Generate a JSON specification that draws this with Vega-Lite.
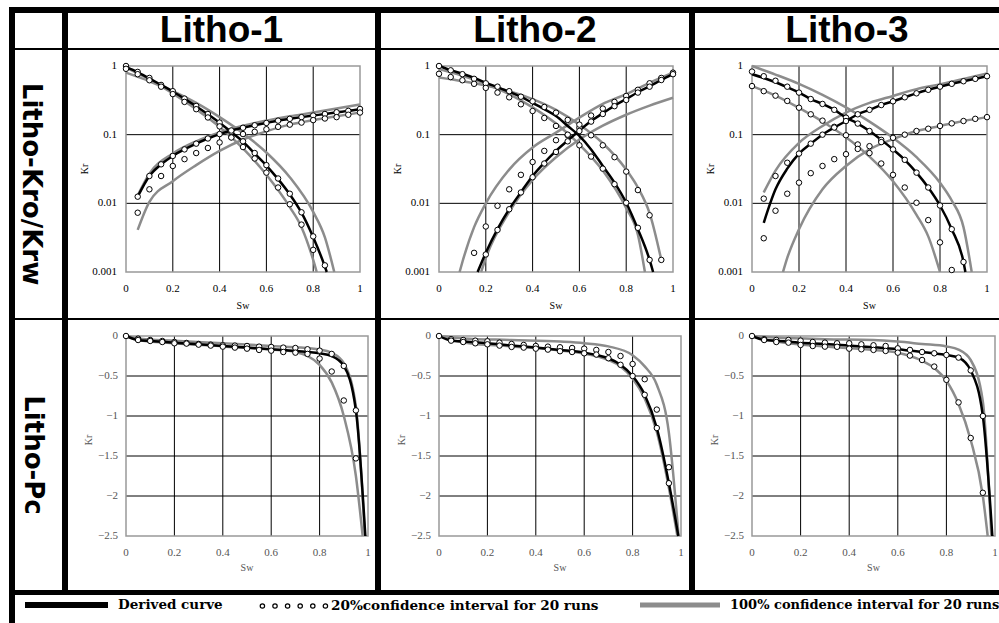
{
"$schema":"https://vega.github.io/schema/vega-lite/v6.json",
"padding":{"left":9,"top":4,"right":0,"bottom":0},
"background":"#ffffff",
"config":{"view":{"stroke":null},"concat":{"spacing":0}},
"datasets":{
"gx":[{"x":0.2},{"x":0.4},{"x":0.6},{"x":0.8}],
"gxl":[{"x":0},{"x":0.2},{"x":0.4},{"x":0.6},{"x":0.8},{"x":1}],
"gyk":[{"y":0.01},{"y":0.1}],
"gykl":[{"y":0.001},{"y":0.01},{"y":0.1},{"y":1}],
"gyp":[{"y":-2},{"y":-1.5},{"y":-1},{"y":-0.5}],
"gypl":[{"y":-2.5},{"y":-2},{"y":-1.5},{"y":-1},{"y":-0.5},{"y":0}],
"kr":[
{"p":1,"t":"d","c":"o","x":0,"y":0.97},{"p":1,"t":"d","c":"o","x":0.05,"y":0.81},{"p":1,"t":"d","c":"o","x":0.1,"y":0.66},{"p":1,"t":"d","c":"o","x":0.15,"y":0.53},{"p":1,"t":"d","c":"o","x":0.2,"y":0.425},{"p":1,"t":"d","c":"o","x":0.25,"y":0.333},{"p":1,"t":"d","c":"o","x":0.3,"y":0.26},{"p":1,"t":"d","c":"o","x":0.35,"y":0.198},{"p":1,"t":"d","c":"o","x":0.4,"y":0.149},{"p":1,"t":"d","c":"o","x":0.45,"y":0.109},{"p":1,"t":"d","c":"o","x":0.5,"y":0.079},{"p":1,"t":"d","c":"o","x":0.55,"y":0.053},{"p":1,"t":"d","c":"o","x":0.6,"y":0.0355},{"p":1,"t":"d","c":"o","x":0.65,"y":0.0225},{"p":1,"t":"d","c":"o","x":0.7,"y":0.0135},{"p":1,"t":"d","c":"o","x":0.75,"y":0.0073},{"p":1,"t":"d","c":"o","x":0.8,"y":0.0032},{"p":1,"t":"d","c":"o","x":0.85,"y":0.0012},{"p":1,"t":"d","c":"o","x":0.858,"y":0.001},
{"p":1,"t":"d","c":"w","x":0.05,"y":0.0125},{"p":1,"t":"d","c":"w","x":0.1,"y":0.025},{"p":1,"t":"d","c":"w","x":0.15,"y":0.037},{"p":1,"t":"d","c":"w","x":0.2,"y":0.049},{"p":1,"t":"d","c":"w","x":0.25,"y":0.061},{"p":1,"t":"d","c":"w","x":0.3,"y":0.074},{"p":1,"t":"d","c":"w","x":0.35,"y":0.088},{"p":1,"t":"d","c":"w","x":0.4,"y":0.102},{"p":1,"t":"d","c":"w","x":0.45,"y":0.115},{"p":1,"t":"d","c":"w","x":0.5,"y":0.126},{"p":1,"t":"d","c":"w","x":0.55,"y":0.137},{"p":1,"t":"d","c":"w","x":0.6,"y":0.148},{"p":1,"t":"d","c":"w","x":0.65,"y":0.16},{"p":1,"t":"d","c":"w","x":0.7,"y":0.17},{"p":1,"t":"d","c":"w","x":0.75,"y":0.18},{"p":1,"t":"d","c":"w","x":0.8,"y":0.19},{"p":1,"t":"d","c":"w","x":0.85,"y":0.2},{"p":1,"t":"d","c":"w","x":0.9,"y":0.212},{"p":1,"t":"d","c":"w","x":0.95,"y":0.222},{"p":1,"t":"d","c":"w","x":1,"y":0.237},
{"p":1,"t":"c","c":"oa","x":0,"y":1},{"p":1,"t":"c","c":"oa","x":0.05,"y":0.82},{"p":1,"t":"c","c":"oa","x":0.1,"y":0.67},{"p":1,"t":"c","c":"oa","x":0.15,"y":0.53},{"p":1,"t":"c","c":"oa","x":0.2,"y":0.43},{"p":1,"t":"c","c":"oa","x":0.25,"y":0.335},{"p":1,"t":"c","c":"oa","x":0.3,"y":0.262},{"p":1,"t":"c","c":"oa","x":0.35,"y":0.2},{"p":1,"t":"c","c":"oa","x":0.4,"y":0.15},{"p":1,"t":"c","c":"oa","x":0.45,"y":0.11},{"p":1,"t":"c","c":"oa","x":0.5,"y":0.08},{"p":1,"t":"c","c":"oa","x":0.55,"y":0.054},{"p":1,"t":"c","c":"oa","x":0.6,"y":0.036},{"p":1,"t":"c","c":"oa","x":0.65,"y":0.023},{"p":1,"t":"c","c":"oa","x":0.7,"y":0.0138},{"p":1,"t":"c","c":"oa","x":0.75,"y":0.0074},{"p":1,"t":"c","c":"oa","x":0.8,"y":0.0033},{"p":1,"t":"c","c":"oa","x":0.85,"y":0.00125},
{"p":1,"t":"c","c":"ob","x":0,"y":0.91},{"p":1,"t":"c","c":"ob","x":0.05,"y":0.76},{"p":1,"t":"c","c":"ob","x":0.1,"y":0.62},{"p":1,"t":"c","c":"ob","x":0.15,"y":0.5},{"p":1,"t":"c","c":"ob","x":0.2,"y":0.39},{"p":1,"t":"c","c":"ob","x":0.25,"y":0.3},{"p":1,"t":"c","c":"ob","x":0.3,"y":0.235},{"p":1,"t":"c","c":"ob","x":0.35,"y":0.178},{"p":1,"t":"c","c":"ob","x":0.4,"y":0.132},{"p":1,"t":"c","c":"ob","x":0.45,"y":0.092},{"p":1,"t":"c","c":"ob","x":0.5,"y":0.066},{"p":1,"t":"c","c":"ob","x":0.55,"y":0.045},{"p":1,"t":"c","c":"ob","x":0.6,"y":0.028},{"p":1,"t":"c","c":"ob","x":0.65,"y":0.017},{"p":1,"t":"c","c":"ob","x":0.7,"y":0.0097},{"p":1,"t":"c","c":"ob","x":0.75,"y":0.0049},{"p":1,"t":"c","c":"ob","x":0.8,"y":0.0021},
{"p":1,"t":"c","c":"wa","x":0.05,"y":0.0125},{"p":1,"t":"c","c":"wa","x":0.1,"y":0.025},{"p":1,"t":"c","c":"wa","x":0.15,"y":0.037},{"p":1,"t":"c","c":"wa","x":0.2,"y":0.049},{"p":1,"t":"c","c":"wa","x":0.25,"y":0.061},{"p":1,"t":"c","c":"wa","x":0.3,"y":0.074},{"p":1,"t":"c","c":"wa","x":0.35,"y":0.088},{"p":1,"t":"c","c":"wa","x":0.4,"y":0.102},{"p":1,"t":"c","c":"wa","x":0.45,"y":0.115},{"p":1,"t":"c","c":"wa","x":0.5,"y":0.126},{"p":1,"t":"c","c":"wa","x":0.55,"y":0.137},{"p":1,"t":"c","c":"wa","x":0.6,"y":0.148},{"p":1,"t":"c","c":"wa","x":0.65,"y":0.16},{"p":1,"t":"c","c":"wa","x":0.7,"y":0.17},{"p":1,"t":"c","c":"wa","x":0.75,"y":0.18},{"p":1,"t":"c","c":"wa","x":0.8,"y":0.19},{"p":1,"t":"c","c":"wa","x":0.85,"y":0.2},{"p":1,"t":"c","c":"wa","x":0.9,"y":0.212},{"p":1,"t":"c","c":"wa","x":0.95,"y":0.222},{"p":1,"t":"c","c":"wa","x":1,"y":0.237},
{"p":1,"t":"c","c":"wb","x":0.05,"y":0.0073},{"p":1,"t":"c","c":"wb","x":0.1,"y":0.016},{"p":1,"t":"c","c":"wb","x":0.15,"y":0.025},{"p":1,"t":"c","c":"wb","x":0.2,"y":0.035},{"p":1,"t":"c","c":"wb","x":0.25,"y":0.044},{"p":1,"t":"c","c":"wb","x":0.3,"y":0.054},{"p":1,"t":"c","c":"wb","x":0.35,"y":0.064},{"p":1,"t":"c","c":"wb","x":0.4,"y":0.077},{"p":1,"t":"c","c":"wb","x":0.45,"y":0.091},{"p":1,"t":"c","c":"wb","x":0.5,"y":0.102},{"p":1,"t":"c","c":"wb","x":0.55,"y":0.11},{"p":1,"t":"c","c":"wb","x":0.6,"y":0.12},{"p":1,"t":"c","c":"wb","x":0.65,"y":0.13},{"p":1,"t":"c","c":"wb","x":0.7,"y":0.14},{"p":1,"t":"c","c":"wb","x":0.75,"y":0.15},{"p":1,"t":"c","c":"wb","x":0.8,"y":0.163},{"p":1,"t":"c","c":"wb","x":0.85,"y":0.172},{"p":1,"t":"c","c":"wb","x":0.9,"y":0.18},{"p":1,"t":"c","c":"wb","x":0.95,"y":0.195},{"p":1,"t":"c","c":"wb","x":1,"y":0.21},
{"p":1,"t":"g","c":"ga","x":0,"y":0.8},{"p":1,"t":"g","c":"ga","x":0.1,"y":0.6},{"p":1,"t":"g","c":"ga","x":0.2,"y":0.43},{"p":1,"t":"g","c":"ga","x":0.3,"y":0.29},{"p":1,"t":"g","c":"ga","x":0.4,"y":0.18},{"p":1,"t":"g","c":"ga","x":0.5,"y":0.105},{"p":1,"t":"g","c":"ga","x":0.6,"y":0.055},{"p":1,"t":"g","c":"ga","x":0.7,"y":0.024},{"p":1,"t":"g","c":"ga","x":0.8,"y":0.0075},{"p":1,"t":"g","c":"ga","x":0.85,"y":0.0032},{"p":1,"t":"g","c":"ga","x":0.89,"y":0.001},
{"p":1,"t":"g","c":"gb","x":0,"y":0.95},{"p":1,"t":"g","c":"gb","x":0.1,"y":0.64},{"p":1,"t":"g","c":"gb","x":0.2,"y":0.4},{"p":1,"t":"g","c":"gb","x":0.3,"y":0.235},{"p":1,"t":"g","c":"gb","x":0.4,"y":0.13},{"p":1,"t":"g","c":"gb","x":0.5,"y":0.063},{"p":1,"t":"g","c":"gb","x":0.6,"y":0.026},{"p":1,"t":"g","c":"gb","x":0.7,"y":0.0088},{"p":1,"t":"g","c":"gb","x":0.75,"y":0.0045},{"p":1,"t":"g","c":"gb","x":0.8,"y":0.0015},{"p":1,"t":"g","c":"gb","x":0.815,"y":0.001},
{"p":1,"t":"g","c":"gc","x":0.05,"y":0.013},{"p":1,"t":"g","c":"gc","x":0.1,"y":0.027},{"p":1,"t":"g","c":"gc","x":0.2,"y":0.053},{"p":1,"t":"g","c":"gc","x":0.3,"y":0.08},{"p":1,"t":"g","c":"gc","x":0.4,"y":0.108},{"p":1,"t":"g","c":"gc","x":0.5,"y":0.135},{"p":1,"t":"g","c":"gc","x":0.6,"y":0.16},{"p":1,"t":"g","c":"gc","x":0.7,"y":0.185},{"p":1,"t":"g","c":"gc","x":0.8,"y":0.21},{"p":1,"t":"g","c":"gc","x":0.9,"y":0.24},{"p":1,"t":"g","c":"gc","x":1,"y":0.275},
{"p":1,"t":"g","c":"gd","x":0.05,"y":0.0041},{"p":1,"t":"g","c":"gd","x":0.1,"y":0.0105},{"p":1,"t":"g","c":"gd","x":0.2,"y":0.021},{"p":1,"t":"g","c":"gd","x":0.3,"y":0.036},{"p":1,"t":"g","c":"gd","x":0.4,"y":0.058},{"p":1,"t":"g","c":"gd","x":0.5,"y":0.085},{"p":1,"t":"g","c":"gd","x":0.6,"y":0.112},{"p":1,"t":"g","c":"gd","x":0.7,"y":0.14},{"p":1,"t":"g","c":"gd","x":0.8,"y":0.163},{"p":1,"t":"g","c":"gd","x":0.9,"y":0.185},{"p":1,"t":"g","c":"gd","x":1,"y":0.21},
{"p":2,"t":"d","c":"o","x":0,"y":1},{"p":2,"t":"d","c":"o","x":0.05,"y":0.87},{"p":2,"t":"d","c":"o","x":0.1,"y":0.77},{"p":2,"t":"d","c":"o","x":0.15,"y":0.67},{"p":2,"t":"d","c":"o","x":0.2,"y":0.57},{"p":2,"t":"d","c":"o","x":0.25,"y":0.49},{"p":2,"t":"d","c":"o","x":0.3,"y":0.42},{"p":2,"t":"d","c":"o","x":0.35,"y":0.355},{"p":2,"t":"d","c":"o","x":0.4,"y":0.29},{"p":2,"t":"d","c":"o","x":0.45,"y":0.235},{"p":2,"t":"d","c":"o","x":0.5,"y":0.187},{"p":2,"t":"d","c":"o","x":0.55,"y":0.134},{"p":2,"t":"d","c":"o","x":0.6,"y":0.096},{"p":2,"t":"d","c":"o","x":0.65,"y":0.061},{"p":2,"t":"d","c":"o","x":0.7,"y":0.035},{"p":2,"t":"d","c":"o","x":0.75,"y":0.02},{"p":2,"t":"d","c":"o","x":0.8,"y":0.0102},{"p":2,"t":"d","c":"o","x":0.85,"y":0.0042},{"p":2,"t":"d","c":"o","x":0.9,"y":0.0015},{"p":2,"t":"d","c":"o","x":0.915,"y":0.001},
{"p":2,"t":"d","c":"w","x":0.165,"y":0.001},{"p":2,"t":"d","c":"w","x":0.2,"y":0.0019},{"p":2,"t":"d","c":"w","x":0.25,"y":0.0042},{"p":2,"t":"d","c":"w","x":0.3,"y":0.0082},{"p":2,"t":"d","c":"w","x":0.35,"y":0.0145},{"p":2,"t":"d","c":"w","x":0.4,"y":0.025},{"p":2,"t":"d","c":"w","x":0.45,"y":0.039},{"p":2,"t":"d","c":"w","x":0.5,"y":0.058},{"p":2,"t":"d","c":"w","x":0.55,"y":0.082},{"p":2,"t":"d","c":"w","x":0.6,"y":0.115},{"p":2,"t":"d","c":"w","x":0.65,"y":0.158},{"p":2,"t":"d","c":"w","x":0.7,"y":0.205},{"p":2,"t":"d","c":"w","x":0.75,"y":0.265},{"p":2,"t":"d","c":"w","x":0.8,"y":0.33},{"p":2,"t":"d","c":"w","x":0.85,"y":0.415},{"p":2,"t":"d","c":"w","x":0.9,"y":0.505},{"p":2,"t":"d","c":"w","x":0.95,"y":0.625},{"p":2,"t":"d","c":"w","x":1,"y":0.76},
{"p":2,"t":"c","c":"oa","x":0,"y":1},{"p":2,"t":"c","c":"oa","x":0.05,"y":0.865},{"p":2,"t":"c","c":"oa","x":0.1,"y":0.76},{"p":2,"t":"c","c":"oa","x":0.15,"y":0.65},{"p":2,"t":"c","c":"oa","x":0.2,"y":0.56},{"p":2,"t":"c","c":"oa","x":0.25,"y":0.5},{"p":2,"t":"c","c":"oa","x":0.3,"y":0.43},{"p":2,"t":"c","c":"oa","x":0.35,"y":0.357},{"p":2,"t":"c","c":"oa","x":0.4,"y":0.306},{"p":2,"t":"c","c":"oa","x":0.45,"y":0.253},{"p":2,"t":"c","c":"oa","x":0.5,"y":0.209},{"p":2,"t":"c","c":"oa","x":0.55,"y":0.164},{"p":2,"t":"c","c":"oa","x":0.6,"y":0.126},{"p":2,"t":"c","c":"oa","x":0.65,"y":0.098},{"p":2,"t":"c","c":"oa","x":0.7,"y":0.07},{"p":2,"t":"c","c":"oa","x":0.75,"y":0.047},{"p":2,"t":"c","c":"oa","x":0.8,"y":0.029},{"p":2,"t":"c","c":"oa","x":0.85,"y":0.0156},{"p":2,"t":"c","c":"oa","x":0.9,"y":0.0067},{"p":2,"t":"c","c":"oa","x":0.95,"y":0.0015},
{"p":2,"t":"c","c":"ob","x":0,"y":0.77},{"p":2,"t":"c","c":"ob","x":0.05,"y":0.69},{"p":2,"t":"c","c":"ob","x":0.1,"y":0.62},{"p":2,"t":"c","c":"ob","x":0.15,"y":0.55},{"p":2,"t":"c","c":"ob","x":0.2,"y":0.48},{"p":2,"t":"c","c":"ob","x":0.25,"y":0.41},{"p":2,"t":"c","c":"ob","x":0.3,"y":0.35},{"p":2,"t":"c","c":"ob","x":0.35,"y":0.277},{"p":2,"t":"c","c":"ob","x":0.4,"y":0.221},{"p":2,"t":"c","c":"ob","x":0.45,"y":0.175},{"p":2,"t":"c","c":"ob","x":0.5,"y":0.134},{"p":2,"t":"c","c":"ob","x":0.55,"y":0.098},{"p":2,"t":"c","c":"ob","x":0.6,"y":0.07},{"p":2,"t":"c","c":"ob","x":0.65,"y":0.048},{"p":2,"t":"c","c":"ob","x":0.7,"y":0.032},{"p":2,"t":"c","c":"ob","x":0.75,"y":0.019},{"p":2,"t":"c","c":"ob","x":0.8,"y":0.0102},{"p":2,"t":"c","c":"ob","x":0.85,"y":0.0044},{"p":2,"t":"c","c":"ob","x":0.9,"y":0.0015},
{"p":2,"t":"c","c":"wa","x":0.15,"y":0.0019},{"p":2,"t":"c","c":"wa","x":0.2,"y":0.0046},{"p":2,"t":"c","c":"wa","x":0.25,"y":0.0092},{"p":2,"t":"c","c":"wa","x":0.3,"y":0.016},{"p":2,"t":"c","c":"wa","x":0.35,"y":0.026},{"p":2,"t":"c","c":"wa","x":0.4,"y":0.04},{"p":2,"t":"c","c":"wa","x":0.45,"y":0.058},{"p":2,"t":"c","c":"wa","x":0.5,"y":0.083},{"p":2,"t":"c","c":"wa","x":0.55,"y":0.1},{"p":2,"t":"c","c":"wa","x":0.6,"y":0.14},{"p":2,"t":"c","c":"wa","x":0.65,"y":0.19},{"p":2,"t":"c","c":"wa","x":0.7,"y":0.24},{"p":2,"t":"c","c":"wa","x":0.75,"y":0.3},{"p":2,"t":"c","c":"wa","x":0.8,"y":0.366},{"p":2,"t":"c","c":"wa","x":0.85,"y":0.45},{"p":2,"t":"c","c":"wa","x":0.9,"y":0.56},{"p":2,"t":"c","c":"wa","x":0.95,"y":0.67},{"p":2,"t":"c","c":"wa","x":1,"y":0.8},
{"p":2,"t":"c","c":"wb","x":0.2,"y":0.0018},{"p":2,"t":"c","c":"wb","x":0.25,"y":0.0041},{"p":2,"t":"c","c":"wb","x":0.3,"y":0.0082},{"p":2,"t":"c","c":"wb","x":0.35,"y":0.0144},{"p":2,"t":"c","c":"wb","x":0.4,"y":0.024},{"p":2,"t":"c","c":"wb","x":0.45,"y":0.038},{"p":2,"t":"c","c":"wb","x":0.5,"y":0.056},{"p":2,"t":"c","c":"wb","x":0.55,"y":0.08},{"p":2,"t":"c","c":"wb","x":0.6,"y":0.113},{"p":2,"t":"c","c":"wb","x":0.65,"y":0.155},{"p":2,"t":"c","c":"wb","x":0.7,"y":0.2},{"p":2,"t":"c","c":"wb","x":0.75,"y":0.26},{"p":2,"t":"c","c":"wb","x":0.8,"y":0.32},{"p":2,"t":"c","c":"wb","x":0.85,"y":0.41},{"p":2,"t":"c","c":"wb","x":0.9,"y":0.5},{"p":2,"t":"c","c":"wb","x":0.95,"y":0.625},{"p":2,"t":"c","c":"wb","x":1,"y":0.76},
{"p":2,"t":"g","c":"ga","x":0,"y":0.68},{"p":2,"t":"g","c":"ga","x":0.1,"y":0.6},{"p":2,"t":"g","c":"ga","x":0.2,"y":0.52},{"p":2,"t":"g","c":"ga","x":0.3,"y":0.43},{"p":2,"t":"g","c":"ga","x":0.4,"y":0.33},{"p":2,"t":"g","c":"ga","x":0.5,"y":0.23},{"p":2,"t":"g","c":"ga","x":0.6,"y":0.14},{"p":2,"t":"g","c":"ga","x":0.7,"y":0.075},{"p":2,"t":"g","c":"ga","x":0.8,"y":0.031},{"p":2,"t":"g","c":"ga","x":0.85,"y":0.017},{"p":2,"t":"g","c":"ga","x":0.9,"y":0.0072},{"p":2,"t":"g","c":"ga","x":0.95,"y":0.0015},
{"p":2,"t":"g","c":"gb","x":0,"y":0.9},{"p":2,"t":"g","c":"gb","x":0.1,"y":0.72},{"p":2,"t":"g","c":"gb","x":0.2,"y":0.55},{"p":2,"t":"g","c":"gb","x":0.3,"y":0.39},{"p":2,"t":"g","c":"gb","x":0.4,"y":0.25},{"p":2,"t":"g","c":"gb","x":0.5,"y":0.145},{"p":2,"t":"g","c":"gb","x":0.6,"y":0.072},{"p":2,"t":"g","c":"gb","x":0.7,"y":0.03},{"p":2,"t":"g","c":"gb","x":0.8,"y":0.0085},{"p":2,"t":"g","c":"gb","x":0.85,"y":0.0035},{"p":2,"t":"g","c":"gb","x":0.88,"y":0.001},
{"p":2,"t":"g","c":"gc","x":0.088,"y":0.001},{"p":2,"t":"g","c":"gc","x":0.1,"y":0.0014},{"p":2,"t":"g","c":"gc","x":0.15,"y":0.0045},{"p":2,"t":"g","c":"gc","x":0.2,"y":0.01},{"p":2,"t":"g","c":"gc","x":0.3,"y":0.031},{"p":2,"t":"g","c":"gc","x":0.4,"y":0.065},{"p":2,"t":"g","c":"gc","x":0.5,"y":0.107},{"p":2,"t":"g","c":"gc","x":0.6,"y":0.177},{"p":2,"t":"g","c":"gc","x":0.7,"y":0.28},{"p":2,"t":"g","c":"gc","x":0.8,"y":0.39},{"p":2,"t":"g","c":"gc","x":0.9,"y":0.57},{"p":2,"t":"g","c":"gc","x":1,"y":0.8},
{"p":2,"t":"g","c":"gd","x":0.18,"y":0.001},{"p":2,"t":"g","c":"gd","x":0.2,"y":0.0016},{"p":2,"t":"g","c":"gd","x":0.3,"y":0.0075},{"p":2,"t":"g","c":"gd","x":0.4,"y":0.022},{"p":2,"t":"g","c":"gd","x":0.5,"y":0.047},{"p":2,"t":"g","c":"gd","x":0.6,"y":0.085},{"p":2,"t":"g","c":"gd","x":0.7,"y":0.135},{"p":2,"t":"g","c":"gd","x":0.8,"y":0.195},{"p":2,"t":"g","c":"gd","x":0.9,"y":0.265},{"p":2,"t":"g","c":"gd","x":1,"y":0.345},
{"p":3,"t":"d","c":"o","x":0,"y":0.76},{"p":3,"t":"d","c":"o","x":0.05,"y":0.67},{"p":3,"t":"d","c":"o","x":0.1,"y":0.58},{"p":3,"t":"d","c":"o","x":0.15,"y":0.49},{"p":3,"t":"d","c":"o","x":0.2,"y":0.41},{"p":3,"t":"d","c":"o","x":0.25,"y":0.33},{"p":3,"t":"d","c":"o","x":0.3,"y":0.28},{"p":3,"t":"d","c":"o","x":0.35,"y":0.23},{"p":3,"t":"d","c":"o","x":0.4,"y":0.177},{"p":3,"t":"d","c":"o","x":0.45,"y":0.145},{"p":3,"t":"d","c":"o","x":0.5,"y":0.113},{"p":3,"t":"d","c":"o","x":0.55,"y":0.084},{"p":3,"t":"d","c":"o","x":0.6,"y":0.061},{"p":3,"t":"d","c":"o","x":0.65,"y":0.043},{"p":3,"t":"d","c":"o","x":0.7,"y":0.028},{"p":3,"t":"d","c":"o","x":0.75,"y":0.017},{"p":3,"t":"d","c":"o","x":0.8,"y":0.0093},{"p":3,"t":"d","c":"o","x":0.85,"y":0.0042},{"p":3,"t":"d","c":"o","x":0.9,"y":0.0014},{"p":3,"t":"d","c":"o","x":0.908,"y":0.001},
{"p":3,"t":"d","c":"w","x":0.05,"y":0.0052},{"p":3,"t":"d","c":"w","x":0.1,"y":0.016},{"p":3,"t":"d","c":"w","x":0.15,"y":0.032},{"p":3,"t":"d","c":"w","x":0.2,"y":0.053},{"p":3,"t":"d","c":"w","x":0.25,"y":0.074},{"p":3,"t":"d","c":"w","x":0.3,"y":0.1},{"p":3,"t":"d","c":"w","x":0.35,"y":0.127},{"p":3,"t":"d","c":"w","x":0.4,"y":0.158},{"p":3,"t":"d","c":"w","x":0.45,"y":0.198},{"p":3,"t":"d","c":"w","x":0.5,"y":0.23},{"p":3,"t":"d","c":"w","x":0.55,"y":0.27},{"p":3,"t":"d","c":"w","x":0.6,"y":0.306},{"p":3,"t":"d","c":"w","x":0.65,"y":0.35},{"p":3,"t":"d","c":"w","x":0.7,"y":0.4},{"p":3,"t":"d","c":"w","x":0.75,"y":0.45},{"p":3,"t":"d","c":"w","x":0.8,"y":0.5},{"p":3,"t":"d","c":"w","x":0.85,"y":0.55},{"p":3,"t":"d","c":"w","x":0.9,"y":0.6},{"p":3,"t":"d","c":"w","x":0.95,"y":0.65},{"p":3,"t":"d","c":"w","x":1,"y":0.71},
{"p":3,"t":"c","c":"oa","x":0,"y":0.83},{"p":3,"t":"c","c":"oa","x":0.05,"y":0.71},{"p":3,"t":"c","c":"oa","x":0.1,"y":0.61},{"p":3,"t":"c","c":"oa","x":0.15,"y":0.5},{"p":3,"t":"c","c":"oa","x":0.2,"y":0.41},{"p":3,"t":"c","c":"oa","x":0.25,"y":0.33},{"p":3,"t":"c","c":"oa","x":0.3,"y":0.28},{"p":3,"t":"c","c":"oa","x":0.35,"y":0.23},{"p":3,"t":"c","c":"oa","x":0.4,"y":0.177},{"p":3,"t":"c","c":"oa","x":0.45,"y":0.145},{"p":3,"t":"c","c":"oa","x":0.5,"y":0.113},{"p":3,"t":"c","c":"oa","x":0.55,"y":0.084},{"p":3,"t":"c","c":"oa","x":0.6,"y":0.061},{"p":3,"t":"c","c":"oa","x":0.65,"y":0.043},{"p":3,"t":"c","c":"oa","x":0.7,"y":0.028},{"p":3,"t":"c","c":"oa","x":0.75,"y":0.017},{"p":3,"t":"c","c":"oa","x":0.8,"y":0.0093},{"p":3,"t":"c","c":"oa","x":0.85,"y":0.0042},{"p":3,"t":"c","c":"oa","x":0.9,"y":0.0014},
{"p":3,"t":"c","c":"ob","x":0,"y":0.51},{"p":3,"t":"c","c":"ob","x":0.05,"y":0.43},{"p":3,"t":"c","c":"ob","x":0.1,"y":0.37},{"p":3,"t":"c","c":"ob","x":0.15,"y":0.31},{"p":3,"t":"c","c":"ob","x":0.2,"y":0.247},{"p":3,"t":"c","c":"ob","x":0.25,"y":0.198},{"p":3,"t":"c","c":"ob","x":0.3,"y":0.16},{"p":3,"t":"c","c":"ob","x":0.35,"y":0.13},{"p":3,"t":"c","c":"ob","x":0.4,"y":0.098},{"p":3,"t":"c","c":"ob","x":0.45,"y":0.072},{"p":3,"t":"c","c":"ob","x":0.5,"y":0.054},{"p":3,"t":"c","c":"ob","x":0.55,"y":0.038},{"p":3,"t":"c","c":"ob","x":0.6,"y":0.026},{"p":3,"t":"c","c":"ob","x":0.65,"y":0.017},{"p":3,"t":"c","c":"ob","x":0.7,"y":0.0102},{"p":3,"t":"c","c":"ob","x":0.75,"y":0.0057},{"p":3,"t":"c","c":"ob","x":0.8,"y":0.0027},{"p":3,"t":"c","c":"ob","x":0.85,"y":0.00107},
{"p":3,"t":"c","c":"wa","x":0.05,"y":0.0117},{"p":3,"t":"c","c":"wa","x":0.1,"y":0.025},{"p":3,"t":"c","c":"wa","x":0.15,"y":0.039},{"p":3,"t":"c","c":"wa","x":0.2,"y":0.053},{"p":3,"t":"c","c":"wa","x":0.25,"y":0.074},{"p":3,"t":"c","c":"wa","x":0.3,"y":0.1},{"p":3,"t":"c","c":"wa","x":0.35,"y":0.127},{"p":3,"t":"c","c":"wa","x":0.4,"y":0.158},{"p":3,"t":"c","c":"wa","x":0.45,"y":0.198},{"p":3,"t":"c","c":"wa","x":0.5,"y":0.23},{"p":3,"t":"c","c":"wa","x":0.55,"y":0.27},{"p":3,"t":"c","c":"wa","x":0.6,"y":0.306},{"p":3,"t":"c","c":"wa","x":0.65,"y":0.35},{"p":3,"t":"c","c":"wa","x":0.7,"y":0.4},{"p":3,"t":"c","c":"wa","x":0.75,"y":0.45},{"p":3,"t":"c","c":"wa","x":0.8,"y":0.5},{"p":3,"t":"c","c":"wa","x":0.85,"y":0.55},{"p":3,"t":"c","c":"wa","x":0.9,"y":0.6},{"p":3,"t":"c","c":"wa","x":0.95,"y":0.65},{"p":3,"t":"c","c":"wa","x":1,"y":0.71},
{"p":3,"t":"c","c":"wb","x":0.05,"y":0.0031},{"p":3,"t":"c","c":"wb","x":0.1,"y":0.0078},{"p":3,"t":"c","c":"wb","x":0.15,"y":0.0138},{"p":3,"t":"c","c":"wb","x":0.2,"y":0.02},{"p":3,"t":"c","c":"wb","x":0.25,"y":0.0275},{"p":3,"t":"c","c":"wb","x":0.3,"y":0.035},{"p":3,"t":"c","c":"wb","x":0.35,"y":0.044},{"p":3,"t":"c","c":"wb","x":0.4,"y":0.052},{"p":3,"t":"c","c":"wb","x":0.45,"y":0.062},{"p":3,"t":"c","c":"wb","x":0.5,"y":0.068},{"p":3,"t":"c","c":"wb","x":0.55,"y":0.078},{"p":3,"t":"c","c":"wb","x":0.6,"y":0.09},{"p":3,"t":"c","c":"wb","x":0.65,"y":0.1},{"p":3,"t":"c","c":"wb","x":0.7,"y":0.113},{"p":3,"t":"c","c":"wb","x":0.75,"y":0.122},{"p":3,"t":"c","c":"wb","x":0.8,"y":0.134},{"p":3,"t":"c","c":"wb","x":0.85,"y":0.146},{"p":3,"t":"c","c":"wb","x":0.9,"y":0.158},{"p":3,"t":"c","c":"wb","x":0.95,"y":0.17},{"p":3,"t":"c","c":"wb","x":1,"y":0.18},
{"p":3,"t":"g","c":"ga","x":0,"y":1},{"p":3,"t":"g","c":"ga","x":0.1,"y":0.75},{"p":3,"t":"g","c":"ga","x":0.2,"y":0.55},{"p":3,"t":"g","c":"ga","x":0.3,"y":0.38},{"p":3,"t":"g","c":"ga","x":0.4,"y":0.25},{"p":3,"t":"g","c":"ga","x":0.5,"y":0.155},{"p":3,"t":"g","c":"ga","x":0.6,"y":0.09},{"p":3,"t":"g","c":"ga","x":0.7,"y":0.047},{"p":3,"t":"g","c":"ga","x":0.8,"y":0.02},{"p":3,"t":"g","c":"ga","x":0.85,"y":0.011},{"p":3,"t":"g","c":"ga","x":0.9,"y":0.0045},{"p":3,"t":"g","c":"ga","x":0.935,"y":0.001},
{"p":3,"t":"g","c":"gb","x":0,"y":0.51},{"p":3,"t":"g","c":"gb","x":0.1,"y":0.37},{"p":3,"t":"g","c":"gb","x":0.2,"y":0.245},{"p":3,"t":"g","c":"gb","x":0.3,"y":0.155},{"p":3,"t":"g","c":"gb","x":0.4,"y":0.092},{"p":3,"t":"g","c":"gb","x":0.5,"y":0.048},{"p":3,"t":"g","c":"gb","x":0.6,"y":0.021},{"p":3,"t":"g","c":"gb","x":0.7,"y":0.0068},{"p":3,"t":"g","c":"gb","x":0.75,"y":0.0033},{"p":3,"t":"g","c":"gb","x":0.8,"y":0.001},
{"p":3,"t":"g","c":"gc","x":0.05,"y":0.0144},{"p":3,"t":"g","c":"gc","x":0.1,"y":0.03},{"p":3,"t":"g","c":"gc","x":0.2,"y":0.076},{"p":3,"t":"g","c":"gc","x":0.3,"y":0.134},{"p":3,"t":"g","c":"gc","x":0.4,"y":0.21},{"p":3,"t":"g","c":"gc","x":0.5,"y":0.29},{"p":3,"t":"g","c":"gc","x":0.6,"y":0.366},{"p":3,"t":"g","c":"gc","x":0.7,"y":0.46},{"p":3,"t":"g","c":"gc","x":0.8,"y":0.54},{"p":3,"t":"g","c":"gc","x":0.9,"y":0.65},{"p":3,"t":"g","c":"gc","x":1,"y":0.78},
{"p":3,"t":"g","c":"gd","x":0.132,"y":0.001},{"p":3,"t":"g","c":"gd","x":0.15,"y":0.0016},{"p":3,"t":"g","c":"gd","x":0.2,"y":0.0042},{"p":3,"t":"g","c":"gd","x":0.3,"y":0.016},{"p":3,"t":"g","c":"gd","x":0.4,"y":0.035},{"p":3,"t":"g","c":"gd","x":0.5,"y":0.061},{"p":3,"t":"g","c":"gd","x":0.6,"y":0.086},{"p":3,"t":"g","c":"gd","x":0.7,"y":0.113},{"p":3,"t":"g","c":"gd","x":0.8,"y":0.134},{"p":3,"t":"g","c":"gd","x":0.9,"y":0.158},{"p":3,"t":"g","c":"gd","x":1,"y":0.18}
],
"pc":[
{"p":1,"t":"d","c":"p","x":0,"y":0},{"p":1,"t":"d","c":"p","x":0.05,"y":-0.05},{"p":1,"t":"d","c":"p","x":0.1,"y":-0.062},{"p":1,"t":"d","c":"p","x":0.2,"y":-0.083},{"p":1,"t":"d","c":"p","x":0.3,"y":-0.104},{"p":1,"t":"d","c":"p","x":0.4,"y":-0.125},{"p":1,"t":"d","c":"p","x":0.5,"y":-0.145},{"p":1,"t":"d","c":"p","x":0.6,"y":-0.166},{"p":1,"t":"d","c":"p","x":0.7,"y":-0.187},{"p":1,"t":"d","c":"p","x":0.75,"y":-0.2},{"p":1,"t":"d","c":"p","x":0.8,"y":-0.216},{"p":1,"t":"d","c":"p","x":0.85,"y":-0.25},{"p":1,"t":"d","c":"p","x":0.9,"y":-0.374},{"p":1,"t":"d","c":"p","x":0.95,"y":-0.93},{"p":1,"t":"d","c":"p","x":0.989,"y":-2.5},
{"p":1,"t":"c","c":"pa","x":0,"y":0},{"p":1,"t":"c","c":"pa","x":0.05,"y":-0.033},{"p":1,"t":"c","c":"pa","x":0.1,"y":-0.05},{"p":1,"t":"c","c":"pa","x":0.15,"y":-0.062},{"p":1,"t":"c","c":"pa","x":0.2,"y":-0.075},{"p":1,"t":"c","c":"pa","x":0.25,"y":-0.087},{"p":1,"t":"c","c":"pa","x":0.3,"y":-0.1},{"p":1,"t":"c","c":"pa","x":0.35,"y":-0.108},{"p":1,"t":"c","c":"pa","x":0.4,"y":-0.116},{"p":1,"t":"c","c":"pa","x":0.45,"y":-0.12},{"p":1,"t":"c","c":"pa","x":0.5,"y":-0.125},{"p":1,"t":"c","c":"pa","x":0.55,"y":-0.133},{"p":1,"t":"c","c":"pa","x":0.6,"y":-0.137},{"p":1,"t":"c","c":"pa","x":0.65,"y":-0.145},{"p":1,"t":"c","c":"pa","x":0.7,"y":-0.15},{"p":1,"t":"c","c":"pa","x":0.75,"y":-0.166},{"p":1,"t":"c","c":"pa","x":0.8,"y":-0.183},{"p":1,"t":"c","c":"pa","x":0.85,"y":-0.224},{"p":1,"t":"c","c":"pa","x":0.9,"y":-0.374},{"p":1,"t":"c","c":"pa","x":0.95,"y":-0.93},
{"p":1,"t":"c","c":"pb","x":0.05,"y":-0.05},{"p":1,"t":"c","c":"pb","x":0.1,"y":-0.062},{"p":1,"t":"c","c":"pb","x":0.15,"y":-0.075},{"p":1,"t":"c","c":"pb","x":0.2,"y":-0.091},{"p":1,"t":"c","c":"pb","x":0.25,"y":-0.095},{"p":1,"t":"c","c":"pb","x":0.3,"y":-0.108},{"p":1,"t":"c","c":"pb","x":0.35,"y":-0.12},{"p":1,"t":"c","c":"pb","x":0.4,"y":-0.133},{"p":1,"t":"c","c":"pb","x":0.45,"y":-0.145},{"p":1,"t":"c","c":"pb","x":0.5,"y":-0.158},{"p":1,"t":"c","c":"pb","x":0.55,"y":-0.174},{"p":1,"t":"c","c":"pb","x":0.6,"y":-0.183},{"p":1,"t":"c","c":"pb","x":0.65,"y":-0.2},{"p":1,"t":"c","c":"pb","x":0.7,"y":-0.208},{"p":1,"t":"c","c":"pb","x":0.75,"y":-0.224},{"p":1,"t":"c","c":"pb","x":0.8,"y":-0.282},{"p":1,"t":"c","c":"pb","x":0.85,"y":-0.444},{"p":1,"t":"c","c":"pb","x":0.9,"y":-0.806},{"p":1,"t":"c","c":"pb","x":0.95,"y":-1.53},
{"p":1,"t":"g","c":"ga","x":0,"y":0},{"p":1,"t":"g","c":"ga","x":0.05,"y":-0.03},{"p":1,"t":"g","c":"ga","x":0.2,"y":-0.06},{"p":1,"t":"g","c":"ga","x":0.4,"y":-0.09},{"p":1,"t":"g","c":"ga","x":0.6,"y":-0.125},{"p":1,"t":"g","c":"ga","x":0.7,"y":-0.14},{"p":1,"t":"g","c":"ga","x":0.8,"y":-0.17},{"p":1,"t":"g","c":"ga","x":0.85,"y":-0.21},{"p":1,"t":"g","c":"ga","x":0.9,"y":-0.34},{"p":1,"t":"g","c":"ga","x":0.95,"y":-0.88},{"p":1,"t":"g","c":"ga","x":0.987,"y":-2.5},
{"p":1,"t":"g","c":"gb","x":0,"y":0},{"p":1,"t":"g","c":"gb","x":0.05,"y":-0.05},{"p":1,"t":"g","c":"gb","x":0.2,"y":-0.09},{"p":1,"t":"g","c":"gb","x":0.4,"y":-0.13},{"p":1,"t":"g","c":"gb","x":0.6,"y":-0.17},{"p":1,"t":"g","c":"gb","x":0.7,"y":-0.2},{"p":1,"t":"g","c":"gb","x":0.75,"y":-0.25},{"p":1,"t":"g","c":"gb","x":0.8,"y":-0.36},{"p":1,"t":"g","c":"gb","x":0.85,"y":-0.58},{"p":1,"t":"g","c":"gb","x":0.9,"y":-1.0},{"p":1,"t":"g","c":"gb","x":0.95,"y":-1.75},{"p":1,"t":"g","c":"gb","x":0.978,"y":-2.5},
{"p":2,"t":"d","c":"p","x":0,"y":0},{"p":2,"t":"d","c":"p","x":0.05,"y":-0.058},{"p":2,"t":"d","c":"p","x":0.1,"y":-0.07},{"p":2,"t":"d","c":"p","x":0.2,"y":-0.091},{"p":2,"t":"d","c":"p","x":0.3,"y":-0.12},{"p":2,"t":"d","c":"p","x":0.4,"y":-0.145},{"p":2,"t":"d","c":"p","x":0.5,"y":-0.174},{"p":2,"t":"d","c":"p","x":0.6,"y":-0.208},{"p":2,"t":"d","c":"p","x":0.65,"y":-0.237},{"p":2,"t":"d","c":"p","x":0.7,"y":-0.278},{"p":2,"t":"d","c":"p","x":0.75,"y":-0.36},{"p":2,"t":"d","c":"p","x":0.8,"y":-0.5},{"p":2,"t":"d","c":"p","x":0.85,"y":-0.735},{"p":2,"t":"d","c":"p","x":0.9,"y":-1.15},{"p":2,"t":"d","c":"p","x":0.95,"y":-1.84},{"p":2,"t":"d","c":"p","x":0.989,"y":-2.5},
{"p":2,"t":"c","c":"pa","x":0,"y":0},{"p":2,"t":"c","c":"pa","x":0.05,"y":-0.04},{"p":2,"t":"c","c":"pa","x":0.1,"y":-0.05},{"p":2,"t":"c","c":"pa","x":0.15,"y":-0.058},{"p":2,"t":"c","c":"pa","x":0.2,"y":-0.066},{"p":2,"t":"c","c":"pa","x":0.25,"y":-0.083},{"p":2,"t":"c","c":"pa","x":0.3,"y":-0.1},{"p":2,"t":"c","c":"pa","x":0.35,"y":-0.112},{"p":2,"t":"c","c":"pa","x":0.4,"y":-0.125},{"p":2,"t":"c","c":"pa","x":0.45,"y":-0.133},{"p":2,"t":"c","c":"pa","x":0.5,"y":-0.141},{"p":2,"t":"c","c":"pa","x":0.55,"y":-0.15},{"p":2,"t":"c","c":"pa","x":0.6,"y":-0.158},{"p":2,"t":"c","c":"pa","x":0.65,"y":-0.174},{"p":2,"t":"c","c":"pa","x":0.7,"y":-0.2},{"p":2,"t":"c","c":"pa","x":0.75,"y":-0.25},{"p":2,"t":"c","c":"pa","x":0.8,"y":-0.35},{"p":2,"t":"c","c":"pa","x":0.85,"y":-0.54},{"p":2,"t":"c","c":"pa","x":0.9,"y":-0.92},{"p":2,"t":"c","c":"pa","x":0.95,"y":-1.64},
{"p":2,"t":"c","c":"pb","x":0.05,"y":-0.058},{"p":2,"t":"c","c":"pb","x":0.1,"y":-0.075},{"p":2,"t":"c","c":"pb","x":0.15,"y":-0.091},{"p":2,"t":"c","c":"pb","x":0.2,"y":-0.104},{"p":2,"t":"c","c":"pb","x":0.25,"y":-0.12},{"p":2,"t":"c","c":"pb","x":0.3,"y":-0.137},{"p":2,"t":"c","c":"pb","x":0.35,"y":-0.145},{"p":2,"t":"c","c":"pb","x":0.4,"y":-0.158},{"p":2,"t":"c","c":"pb","x":0.45,"y":-0.17},{"p":2,"t":"c","c":"pb","x":0.5,"y":-0.19},{"p":2,"t":"c","c":"pb","x":0.55,"y":-0.2},{"p":2,"t":"c","c":"pb","x":0.6,"y":-0.216},{"p":2,"t":"c","c":"pb","x":0.65,"y":-0.232},{"p":2,"t":"c","c":"pb","x":0.7,"y":-0.278},{"p":2,"t":"c","c":"pb","x":0.75,"y":-0.36},{"p":2,"t":"c","c":"pb","x":0.8,"y":-0.5},{"p":2,"t":"c","c":"pb","x":0.85,"y":-0.735},{"p":2,"t":"c","c":"pb","x":0.9,"y":-1.15},{"p":2,"t":"c","c":"pb","x":0.95,"y":-1.84},
{"p":2,"t":"g","c":"ga","x":0,"y":0},{"p":2,"t":"g","c":"ga","x":0.1,"y":-0.03},{"p":2,"t":"g","c":"ga","x":0.3,"y":-0.05},{"p":2,"t":"g","c":"ga","x":0.5,"y":-0.07},{"p":2,"t":"g","c":"ga","x":0.6,"y":-0.09},{"p":2,"t":"g","c":"ga","x":0.7,"y":-0.13},{"p":2,"t":"g","c":"ga","x":0.8,"y":-0.24},{"p":2,"t":"g","c":"ga","x":0.85,"y":-0.38},{"p":2,"t":"g","c":"ga","x":0.9,"y":-0.61},{"p":2,"t":"g","c":"ga","x":0.95,"y":-1.21},{"p":2,"t":"g","c":"ga","x":0.99,"y":-2.5},
{"p":2,"t":"g","c":"gb","x":0,"y":0},{"p":2,"t":"g","c":"gb","x":0.1,"y":-0.08},{"p":2,"t":"g","c":"gb","x":0.3,"y":-0.13},{"p":2,"t":"g","c":"gb","x":0.5,"y":-0.18},{"p":2,"t":"g","c":"gb","x":0.6,"y":-0.22},{"p":2,"t":"g","c":"gb","x":0.7,"y":-0.3},{"p":2,"t":"g","c":"gb","x":0.75,"y":-0.38},{"p":2,"t":"g","c":"gb","x":0.8,"y":-0.53},{"p":2,"t":"g","c":"gb","x":0.85,"y":-0.78},{"p":2,"t":"g","c":"gb","x":0.9,"y":-1.2},{"p":2,"t":"g","c":"gb","x":0.95,"y":-1.9},{"p":2,"t":"g","c":"gb","x":0.985,"y":-2.5},
{"p":3,"t":"d","c":"p","x":0,"y":0},{"p":3,"t":"d","c":"p","x":0.05,"y":-0.05},{"p":3,"t":"d","c":"p","x":0.1,"y":-0.06},{"p":3,"t":"d","c":"p","x":0.2,"y":-0.083},{"p":3,"t":"d","c":"p","x":0.3,"y":-0.1},{"p":3,"t":"d","c":"p","x":0.4,"y":-0.12},{"p":3,"t":"d","c":"p","x":0.5,"y":-0.141},{"p":3,"t":"d","c":"p","x":0.6,"y":-0.166},{"p":3,"t":"d","c":"p","x":0.65,"y":-0.183},{"p":3,"t":"d","c":"p","x":0.7,"y":-0.2},{"p":3,"t":"d","c":"p","x":0.75,"y":-0.216},{"p":3,"t":"d","c":"p","x":0.8,"y":-0.237},{"p":3,"t":"d","c":"p","x":0.85,"y":-0.27},{"p":3,"t":"d","c":"p","x":0.9,"y":-0.43},{"p":3,"t":"d","c":"p","x":0.95,"y":-1.0},{"p":3,"t":"d","c":"p","x":0.989,"y":-2.5},
{"p":3,"t":"c","c":"pa","x":0,"y":0},{"p":3,"t":"c","c":"pa","x":0.05,"y":-0.04},{"p":3,"t":"c","c":"pa","x":0.1,"y":-0.05},{"p":3,"t":"c","c":"pa","x":0.15,"y":-0.05},{"p":3,"t":"c","c":"pa","x":0.2,"y":-0.058},{"p":3,"t":"c","c":"pa","x":0.25,"y":-0.075},{"p":3,"t":"c","c":"pa","x":0.3,"y":-0.083},{"p":3,"t":"c","c":"pa","x":0.35,"y":-0.091},{"p":3,"t":"c","c":"pa","x":0.4,"y":-0.091},{"p":3,"t":"c","c":"pa","x":0.45,"y":-0.104},{"p":3,"t":"c","c":"pa","x":0.5,"y":-0.116},{"p":3,"t":"c","c":"pa","x":0.55,"y":-0.125},{"p":3,"t":"c","c":"pa","x":0.6,"y":-0.154},{"p":3,"t":"c","c":"pa","x":0.65,"y":-0.174},{"p":3,"t":"c","c":"pa","x":0.7,"y":-0.2},{"p":3,"t":"c","c":"pa","x":0.75,"y":-0.216},{"p":3,"t":"c","c":"pa","x":0.8,"y":-0.237},{"p":3,"t":"c","c":"pa","x":0.85,"y":-0.27},{"p":3,"t":"c","c":"pa","x":0.9,"y":-0.43},{"p":3,"t":"c","c":"pa","x":0.95,"y":-1.0},
{"p":3,"t":"c","c":"pb","x":0.05,"y":-0.05},{"p":3,"t":"c","c":"pb","x":0.1,"y":-0.075},{"p":3,"t":"c","c":"pb","x":0.15,"y":-0.083},{"p":3,"t":"c","c":"pb","x":0.2,"y":-0.112},{"p":3,"t":"c","c":"pb","x":0.25,"y":-0.125},{"p":3,"t":"c","c":"pb","x":0.3,"y":-0.133},{"p":3,"t":"c","c":"pb","x":0.35,"y":-0.135},{"p":3,"t":"c","c":"pb","x":0.4,"y":-0.158},{"p":3,"t":"c","c":"pb","x":0.45,"y":-0.166},{"p":3,"t":"c","c":"pb","x":0.5,"y":-0.174},{"p":3,"t":"c","c":"pb","x":0.55,"y":-0.187},{"p":3,"t":"c","c":"pb","x":0.6,"y":-0.208},{"p":3,"t":"c","c":"pb","x":0.65,"y":-0.245},{"p":3,"t":"c","c":"pb","x":0.7,"y":-0.3},{"p":3,"t":"c","c":"pb","x":0.75,"y":-0.382},{"p":3,"t":"c","c":"pb","x":0.8,"y":-0.548},{"p":3,"t":"c","c":"pb","x":0.85,"y":-0.83},{"p":3,"t":"c","c":"pb","x":0.9,"y":-1.275},{"p":3,"t":"c","c":"pb","x":0.95,"y":-1.96},
{"p":3,"t":"g","c":"ga","x":0,"y":0},{"p":3,"t":"g","c":"ga","x":0.1,"y":-0.02},{"p":3,"t":"g","c":"ga","x":0.3,"y":-0.04},{"p":3,"t":"g","c":"ga","x":0.5,"y":-0.05},{"p":3,"t":"g","c":"ga","x":0.6,"y":-0.07},{"p":3,"t":"g","c":"ga","x":0.7,"y":-0.1},{"p":3,"t":"g","c":"ga","x":0.8,"y":-0.13},{"p":3,"t":"g","c":"ga","x":0.85,"y":-0.17},{"p":3,"t":"g","c":"ga","x":0.9,"y":-0.3},{"p":3,"t":"g","c":"ga","x":0.95,"y":-0.82},{"p":3,"t":"g","c":"ga","x":0.985,"y":-2.5},
{"p":3,"t":"g","c":"gb","x":0,"y":0},{"p":3,"t":"g","c":"gb","x":0.1,"y":-0.07},{"p":3,"t":"g","c":"gb","x":0.3,"y":-0.13},{"p":3,"t":"g","c":"gb","x":0.5,"y":-0.175},{"p":3,"t":"g","c":"gb","x":0.6,"y":-0.21},{"p":3,"t":"g","c":"gb","x":0.7,"y":-0.31},{"p":3,"t":"g","c":"gb","x":0.75,"y":-0.4},{"p":3,"t":"g","c":"gb","x":0.8,"y":-0.56},{"p":3,"t":"g","c":"gb","x":0.85,"y":-0.85},{"p":3,"t":"g","c":"gb","x":0.9,"y":-1.3},{"p":3,"t":"g","c":"gb","x":0.95,"y":-2.0},{"p":3,"t":"g","c":"gb","x":0.97,"y":-2.5}
]
},
"columns":8,"spacing":0,"align":"each","bounds":"flush",
"resolve":{"scale":{"color":"independent"},"legend":{"color":"independent"}},
"concat":[
{"width":6,"height":6,"data":{"values":[{}]},"mark":{"type":"text","text":""},"view":{"fill":"#000","stroke":null}},
{"width":47,"height":6,"data":{"values":[{}]},"mark":{"type":"text","text":""},"view":{"fill":"#000","stroke":null}},
{"width":6,"height":6,"data":{"values":[{}]},"mark":{"type":"text","text":""},"view":{"fill":"#000","stroke":null}},
{"width":307,"height":6,"data":{"values":[{}]},"mark":{"type":"text","text":""},"view":{"fill":"#000","stroke":null}},
{"width":6,"height":6,"data":{"values":[{}]},"mark":{"type":"text","text":""},"view":{"fill":"#000","stroke":null}},
{"width":308,"height":6,"data":{"values":[{}]},"mark":{"type":"text","text":""},"view":{"fill":"#000","stroke":null}},
{"width":6,"height":6,"data":{"values":[{}]},"mark":{"type":"text","text":""},"view":{"fill":"#000","stroke":null}},
{"width":304,"height":6,"data":{"values":[{}]},"mark":{"type":"text","text":""},"view":{"fill":"#000","stroke":null}},

{"width":6,"height":35,"data":{"values":[{}]},"mark":{"type":"text","text":""},"view":{"fill":"#000","stroke":null}},
{"width":47,"height":35,"data":{"values":[{}]},"mark":{"type":"text","text":""}},
{"width":6,"height":35,"data":{"values":[{}]},"mark":{"type":"text","text":""},"view":{"fill":"#000","stroke":null}},
{"width":307,"height":35,"data":{"values":[{"t":"Litho-1"}]},"mark":{"type":"text","font":"Liberation Sans","fontWeight":"bold","fontSize":37,"baseline":"top","dy":-17.5,"color":"#000"},"encoding":{"text":{"field":"t"}}},
{"width":6,"height":35,"data":{"values":[{}]},"mark":{"type":"text","text":""},"view":{"fill":"#000","stroke":null}},
{"width":308,"height":35,"data":{"values":[{"t":"Litho-2"}]},"mark":{"type":"text","font":"Liberation Sans","fontWeight":"bold","fontSize":37,"baseline":"top","dy":-17.5,"color":"#000"},"encoding":{"text":{"field":"t"}}},
{"width":6,"height":35,"data":{"values":[{}]},"mark":{"type":"text","text":""},"view":{"fill":"#000","stroke":null}},
{"width":304,"height":35,"data":{"values":[{"t":"Litho-3"}]},"mark":{"type":"text","font":"Liberation Sans","fontWeight":"bold","fontSize":37,"baseline":"top","dy":-17.5,"color":"#000"},"encoding":{"text":{"field":"t"}}},

{"width":6,"height":2,"data":{"values":[{}]},"mark":{"type":"text","text":""},"view":{"fill":"#000","stroke":null}},
{"width":47,"height":2,"data":{"values":[{}]},"mark":{"type":"text","text":""},"view":{"fill":"#000","stroke":null}},
{"width":6,"height":2,"data":{"values":[{}]},"mark":{"type":"text","text":""},"view":{"fill":"#000","stroke":null}},
{"width":307,"height":2,"data":{"values":[{}]},"mark":{"type":"text","text":""},"view":{"fill":"#000","stroke":null}},
{"width":6,"height":2,"data":{"values":[{}]},"mark":{"type":"text","text":""},"view":{"fill":"#000","stroke":null}},
{"width":308,"height":2,"data":{"values":[{}]},"mark":{"type":"text","text":""},"view":{"fill":"#000","stroke":null}},
{"width":6,"height":2,"data":{"values":[{}]},"mark":{"type":"text","text":""},"view":{"fill":"#000","stroke":null}},
{"width":304,"height":2,"data":{"values":[{}]},"mark":{"type":"text","text":""},"view":{"fill":"#000","stroke":null}},

{"width":6,"height":268,"data":{"values":[{}]},"mark":{"type":"text","text":""},"view":{"fill":"#000","stroke":null}},
{"width":47,"height":268,"data":{"values":[{"t":"Litho-Kro/Krw"}]},"mark":{"type":"text","angle":90,"font":"DejaVu Sans","fontWeight":"bold","fontSize":26,"baseline":"middle","align":"center","dy":8,"color":"#000"},"encoding":{"text":{"field":"t"}}},
{"width":6,"height":268,"data":{"values":[{}]},"mark":{"type":"text","text":""},"view":{"fill":"#000","stroke":null}},
{"width":307,"height":268,"layer":[
{"data":{"name":"gx"},"mark":{"type":"rule","color":"#000","strokeWidth":1},"encoding":{"x":{"field":"x","type":"quantitative","scale":{"domain":[0,1],"range":[58,292],"nice":false,"zero":false},"axis":null},"y":{"datum":0.001,"type":"quantitative","scale":{"type":"log","domain":[0.001,1],"range":[222,16],"nice":false},"axis":null},"y2":{"datum":1}}},
{"data":{"name":"gyk"},"mark":{"type":"rule","color":"#000","strokeWidth":1},"encoding":{"y":{"field":"y","type":"quantitative","scale":{"type":"log","domain":[0.001,1],"range":[222,16],"nice":false},"axis":null},"x":{"datum":0,"type":"quantitative","scale":{"domain":[0,1],"range":[58,292],"nice":false,"zero":false},"axis":null},"x2":{"datum":1}}},
{"data":{"values":[{}]},"mark":{"type":"rect","fillOpacity":0,"stroke":"#999","strokeWidth":1.5},"encoding":{"x":{"datum":0,"type":"quantitative","scale":{"domain":[0,1],"range":[58,292],"nice":false,"zero":false},"axis":null},"x2":{"datum":1},"y":{"datum":0.001,"type":"quantitative","scale":{"type":"log","domain":[0.001,1],"range":[222,16],"nice":false},"axis":null},"y2":{"datum":1}}},
{"data":{"name":"kr"},"transform":[{"filter":"datum.p==1 && datum.t=='g'"}],"mark":{"type":"line","color":"#8c8c8c","strokeWidth":2.5,"interpolate":"monotone"},"encoding":{"x":{"field":"x","type":"quantitative","scale":{"domain":[0,1],"range":[58,292],"nice":false,"zero":false},"axis":null},"y":{"field":"y","type":"quantitative","scale":{"type":"log","domain":[0.001,1],"range":[222,16],"nice":false},"axis":null},"detail":{"field":"c"}}},
{"data":{"name":"kr"},"transform":[{"filter":"datum.p==1 && datum.t=='d'"}],"mark":{"type":"line","color":"#000","strokeWidth":2.5,"interpolate":"monotone"},"encoding":{"x":{"field":"x","type":"quantitative","scale":{"domain":[0,1],"range":[58,292],"nice":false,"zero":false},"axis":null},"y":{"field":"y","type":"quantitative","scale":{"type":"log","domain":[0.001,1],"range":[222,16],"nice":false},"axis":null},"detail":{"field":"c"}}},
{"data":{"name":"kr"},"transform":[{"filter":"datum.p==1 && datum.t=='c'"}],"mark":{"type":"point","shape":"circle","filled":true,"fill":"#fff","stroke":"#000","strokeWidth":1,"size":30,"opacity":1},"encoding":{"x":{"field":"x","type":"quantitative","scale":{"domain":[0,1],"range":[58,292],"nice":false,"zero":false},"axis":null},"y":{"field":"y","type":"quantitative","scale":{"type":"log","domain":[0.001,1],"range":[222,16],"nice":false},"axis":null}}},
{"data":{"name":"gxl"},"mark":{"type":"text","font":"Liberation Serif","fontSize":11,"color":"#000","baseline":"middle","dy":17},"encoding":{"x":{"field":"x","type":"quantitative","scale":{"domain":[0,1],"range":[58,292],"nice":false,"zero":false},"axis":null},"y":{"datum":0.001,"type":"quantitative","scale":{"type":"log","domain":[0.001,1],"range":[222,16],"nice":false},"axis":null},"text":{"field":"x","type":"quantitative","format":"~g"}}},
{"data":{"name":"gykl"},"mark":{"type":"text","font":"Liberation Serif","fontSize":11,"color":"#000","baseline":"middle","align":"right","dx":-9},"encoding":{"x":{"datum":0,"type":"quantitative","scale":{"domain":[0,1],"range":[58,292],"nice":false,"zero":false},"axis":null},"y":{"field":"y","type":"quantitative","scale":{"type":"log","domain":[0.001,1],"range":[222,16],"nice":false},"axis":null},"text":{"field":"y","type":"quantitative","format":"~g"}}},
{"data":{"values":[{}]},"mark":{"type":"text","text":"Sw","font":"Liberation Serif","fontSize":10,"color":"#000","baseline":"middle","dy":34},"encoding":{"x":{"datum":0.5,"type":"quantitative","scale":{"domain":[0,1],"range":[58,292],"nice":false,"zero":false},"axis":null},"y":{"datum":0.001,"type":"quantitative","scale":{"type":"log","domain":[0.001,1],"range":[222,16],"nice":false},"axis":null}}},
{"data":{"values":[{}]},"mark":{"type":"text","text":"Kr","font":"Liberation Serif","fontSize":10,"color":"#000","baseline":"middle","angle":270,"dy":-41},"encoding":{"x":{"datum":0,"type":"quantitative","scale":{"domain":[0,1],"range":[58,292],"nice":false,"zero":false},"axis":null},"y":{"datum":0.0316,"type":"quantitative","scale":{"type":"log","domain":[0.001,1],"range":[222,16],"nice":false},"axis":null}}}
]},
{"width":6,"height":268,"data":{"values":[{}]},"mark":{"type":"text","text":""},"view":{"fill":"#000","stroke":null}},
{"width":308,"height":268,"layer":[
{"data":{"name":"gx"},"mark":{"type":"rule","color":"#000","strokeWidth":1},"encoding":{"x":{"field":"x","type":"quantitative","scale":{"domain":[0,1],"range":[58,292],"nice":false,"zero":false},"axis":null},"y":{"datum":0.001,"type":"quantitative","scale":{"type":"log","domain":[0.001,1],"range":[222,16],"nice":false},"axis":null},"y2":{"datum":1}}},
{"data":{"name":"gyk"},"mark":{"type":"rule","color":"#000","strokeWidth":1},"encoding":{"y":{"field":"y","type":"quantitative","scale":{"type":"log","domain":[0.001,1],"range":[222,16],"nice":false},"axis":null},"x":{"datum":0,"type":"quantitative","scale":{"domain":[0,1],"range":[58,292],"nice":false,"zero":false},"axis":null},"x2":{"datum":1}}},
{"data":{"values":[{}]},"mark":{"type":"rect","fillOpacity":0,"stroke":"#999","strokeWidth":1.5},"encoding":{"x":{"datum":0,"type":"quantitative","scale":{"domain":[0,1],"range":[58,292],"nice":false,"zero":false},"axis":null},"x2":{"datum":1},"y":{"datum":0.001,"type":"quantitative","scale":{"type":"log","domain":[0.001,1],"range":[222,16],"nice":false},"axis":null},"y2":{"datum":1}}},
{"data":{"name":"kr"},"transform":[{"filter":"datum.p==2 && datum.t=='g'"}],"mark":{"type":"line","color":"#8c8c8c","strokeWidth":2.5,"interpolate":"monotone"},"encoding":{"x":{"field":"x","type":"quantitative","scale":{"domain":[0,1],"range":[58,292],"nice":false,"zero":false},"axis":null},"y":{"field":"y","type":"quantitative","scale":{"type":"log","domain":[0.001,1],"range":[222,16],"nice":false},"axis":null},"detail":{"field":"c"}}},
{"data":{"name":"kr"},"transform":[{"filter":"datum.p==2 && datum.t=='d'"}],"mark":{"type":"line","color":"#000","strokeWidth":2.5,"interpolate":"monotone"},"encoding":{"x":{"field":"x","type":"quantitative","scale":{"domain":[0,1],"range":[58,292],"nice":false,"zero":false},"axis":null},"y":{"field":"y","type":"quantitative","scale":{"type":"log","domain":[0.001,1],"range":[222,16],"nice":false},"axis":null},"detail":{"field":"c"}}},
{"data":{"name":"kr"},"transform":[{"filter":"datum.p==2 && datum.t=='c'"}],"mark":{"type":"point","shape":"circle","filled":true,"fill":"#fff","stroke":"#000","strokeWidth":1,"size":30,"opacity":1},"encoding":{"x":{"field":"x","type":"quantitative","scale":{"domain":[0,1],"range":[58,292],"nice":false,"zero":false},"axis":null},"y":{"field":"y","type":"quantitative","scale":{"type":"log","domain":[0.001,1],"range":[222,16],"nice":false},"axis":null}}},
{"data":{"name":"gxl"},"mark":{"type":"text","font":"Liberation Serif","fontSize":11,"color":"#000","baseline":"middle","dy":17},"encoding":{"x":{"field":"x","type":"quantitative","scale":{"domain":[0,1],"range":[58,292],"nice":false,"zero":false},"axis":null},"y":{"datum":0.001,"type":"quantitative","scale":{"type":"log","domain":[0.001,1],"range":[222,16],"nice":false},"axis":null},"text":{"field":"x","type":"quantitative","format":"~g"}}},
{"data":{"name":"gykl"},"mark":{"type":"text","font":"Liberation Serif","fontSize":11,"color":"#000","baseline":"middle","align":"right","dx":-9},"encoding":{"x":{"datum":0,"type":"quantitative","scale":{"domain":[0,1],"range":[58,292],"nice":false,"zero":false},"axis":null},"y":{"field":"y","type":"quantitative","scale":{"type":"log","domain":[0.001,1],"range":[222,16],"nice":false},"axis":null},"text":{"field":"y","type":"quantitative","format":"~g"}}},
{"data":{"values":[{}]},"mark":{"type":"text","text":"Sw","font":"Liberation Serif","fontSize":10,"color":"#000","baseline":"middle","dy":34},"encoding":{"x":{"datum":0.5,"type":"quantitative","scale":{"domain":[0,1],"range":[58,292],"nice":false,"zero":false},"axis":null},"y":{"datum":0.001,"type":"quantitative","scale":{"type":"log","domain":[0.001,1],"range":[222,16],"nice":false},"axis":null}}},
{"data":{"values":[{}]},"mark":{"type":"text","text":"Kr","font":"Liberation Serif","fontSize":10,"color":"#000","baseline":"middle","angle":270,"dy":-41},"encoding":{"x":{"datum":0,"type":"quantitative","scale":{"domain":[0,1],"range":[58,292],"nice":false,"zero":false},"axis":null},"y":{"datum":0.0316,"type":"quantitative","scale":{"type":"log","domain":[0.001,1],"range":[222,16],"nice":false},"axis":null}}}
]},
{"width":6,"height":268,"data":{"values":[{}]},"mark":{"type":"text","text":""},"view":{"fill":"#000","stroke":null}},
{"width":304,"height":268,"layer":[
{"data":{"name":"gx"},"mark":{"type":"rule","color":"#000","strokeWidth":1},"encoding":{"x":{"field":"x","type":"quantitative","scale":{"domain":[0,1],"range":[57,292],"nice":false,"zero":false},"axis":null},"y":{"datum":0.001,"type":"quantitative","scale":{"type":"log","domain":[0.001,1],"range":[222,16],"nice":false},"axis":null},"y2":{"datum":1}}},
{"data":{"name":"gyk"},"mark":{"type":"rule","color":"#000","strokeWidth":1},"encoding":{"y":{"field":"y","type":"quantitative","scale":{"type":"log","domain":[0.001,1],"range":[222,16],"nice":false},"axis":null},"x":{"datum":0,"type":"quantitative","scale":{"domain":[0,1],"range":[57,292],"nice":false,"zero":false},"axis":null},"x2":{"datum":1}}},
{"data":{"values":[{}]},"mark":{"type":"rect","fillOpacity":0,"stroke":"#999","strokeWidth":1.5},"encoding":{"x":{"datum":0,"type":"quantitative","scale":{"domain":[0,1],"range":[57,292],"nice":false,"zero":false},"axis":null},"x2":{"datum":1},"y":{"datum":0.001,"type":"quantitative","scale":{"type":"log","domain":[0.001,1],"range":[222,16],"nice":false},"axis":null},"y2":{"datum":1}}},
{"data":{"name":"kr"},"transform":[{"filter":"datum.p==3 && datum.t=='g'"}],"mark":{"type":"line","color":"#8c8c8c","strokeWidth":2.5,"interpolate":"monotone"},"encoding":{"x":{"field":"x","type":"quantitative","scale":{"domain":[0,1],"range":[57,292],"nice":false,"zero":false},"axis":null},"y":{"field":"y","type":"quantitative","scale":{"type":"log","domain":[0.001,1],"range":[222,16],"nice":false},"axis":null},"detail":{"field":"c"}}},
{"data":{"name":"kr"},"transform":[{"filter":"datum.p==3 && datum.t=='d'"}],"mark":{"type":"line","color":"#000","strokeWidth":2.5,"interpolate":"monotone"},"encoding":{"x":{"field":"x","type":"quantitative","scale":{"domain":[0,1],"range":[57,292],"nice":false,"zero":false},"axis":null},"y":{"field":"y","type":"quantitative","scale":{"type":"log","domain":[0.001,1],"range":[222,16],"nice":false},"axis":null},"detail":{"field":"c"}}},
{"data":{"name":"kr"},"transform":[{"filter":"datum.p==3 && datum.t=='c'"}],"mark":{"type":"point","shape":"circle","filled":true,"fill":"#fff","stroke":"#000","strokeWidth":1,"size":30,"opacity":1},"encoding":{"x":{"field":"x","type":"quantitative","scale":{"domain":[0,1],"range":[57,292],"nice":false,"zero":false},"axis":null},"y":{"field":"y","type":"quantitative","scale":{"type":"log","domain":[0.001,1],"range":[222,16],"nice":false},"axis":null}}},
{"data":{"name":"gxl"},"mark":{"type":"text","font":"Liberation Serif","fontSize":11,"color":"#000","baseline":"middle","dy":17},"encoding":{"x":{"field":"x","type":"quantitative","scale":{"domain":[0,1],"range":[57,292],"nice":false,"zero":false},"axis":null},"y":{"datum":0.001,"type":"quantitative","scale":{"type":"log","domain":[0.001,1],"range":[222,16],"nice":false},"axis":null},"text":{"field":"x","type":"quantitative","format":"~g"}}},
{"data":{"name":"gykl"},"mark":{"type":"text","font":"Liberation Serif","fontSize":11,"color":"#000","baseline":"middle","align":"right","dx":-9},"encoding":{"x":{"datum":0,"type":"quantitative","scale":{"domain":[0,1],"range":[57,292],"nice":false,"zero":false},"axis":null},"y":{"field":"y","type":"quantitative","scale":{"type":"log","domain":[0.001,1],"range":[222,16],"nice":false},"axis":null},"text":{"field":"y","type":"quantitative","format":"~g"}}},
{"data":{"values":[{}]},"mark":{"type":"text","text":"Sw","font":"Liberation Serif","fontSize":10,"color":"#000","baseline":"middle","dy":34},"encoding":{"x":{"datum":0.5,"type":"quantitative","scale":{"domain":[0,1],"range":[57,292],"nice":false,"zero":false},"axis":null},"y":{"datum":0.001,"type":"quantitative","scale":{"type":"log","domain":[0.001,1],"range":[222,16],"nice":false},"axis":null}}},
{"data":{"values":[{}]},"mark":{"type":"text","text":"Kr","font":"Liberation Serif","fontSize":10,"color":"#000","baseline":"middle","angle":270,"dy":-41},"encoding":{"x":{"datum":0,"type":"quantitative","scale":{"domain":[0,1],"range":[57,292],"nice":false,"zero":false},"axis":null},"y":{"datum":0.0316,"type":"quantitative","scale":{"type":"log","domain":[0.001,1],"range":[222,16],"nice":false},"axis":null}}}
]},

{"width":6,"height":2,"data":{"values":[{}]},"mark":{"type":"text","text":""},"view":{"fill":"#000","stroke":null}},
{"width":47,"height":2,"data":{"values":[{}]},"mark":{"type":"text","text":""},"view":{"fill":"#000","stroke":null}},
{"width":6,"height":2,"data":{"values":[{}]},"mark":{"type":"text","text":""},"view":{"fill":"#000","stroke":null}},
{"width":307,"height":2,"data":{"values":[{}]},"mark":{"type":"text","text":""},"view":{"fill":"#000","stroke":null}},
{"width":6,"height":2,"data":{"values":[{}]},"mark":{"type":"text","text":""},"view":{"fill":"#000","stroke":null}},
{"width":308,"height":2,"data":{"values":[{}]},"mark":{"type":"text","text":""},"view":{"fill":"#000","stroke":null}},
{"width":6,"height":2,"data":{"values":[{}]},"mark":{"type":"text","text":""},"view":{"fill":"#000","stroke":null}},
{"width":304,"height":2,"data":{"values":[{}]},"mark":{"type":"text","text":""},"view":{"fill":"#000","stroke":null}},

{"width":6,"height":270,"data":{"values":[{}]},"mark":{"type":"text","text":""},"view":{"fill":"#000","stroke":null}},
{"width":47,"height":270,"data":{"values":[{"t":"Litho-Pc"}]},"mark":{"type":"text","angle":90,"font":"DejaVu Sans","fontWeight":"bold","fontSize":26,"baseline":"middle","align":"center","dy":6,"color":"#000"},"encoding":{"text":{"field":"t"}}},
{"width":6,"height":270,"data":{"values":[{}]},"mark":{"type":"text","text":""},"view":{"fill":"#000","stroke":null}},
{"width":307,"height":270,"layer":[
{"data":{"name":"gx"},"mark":{"type":"rule","color":"#000","strokeWidth":1},"encoding":{"x":{"field":"x","type":"quantitative","scale":{"domain":[0,1],"range":[58,300],"nice":false,"zero":false},"axis":null},"y":{"datum":-2.5,"type":"quantitative","scale":{"domain":[-2.5,0],"range":[216,16],"nice":false,"zero":false},"axis":null},"y2":{"datum":0}}},
{"data":{"name":"gyp"},"mark":{"type":"rule","color":"#000","strokeWidth":1},"encoding":{"y":{"field":"y","type":"quantitative","scale":{"domain":[-2.5,0],"range":[216,16],"nice":false,"zero":false},"axis":null},"x":{"datum":0,"type":"quantitative","scale":{"domain":[0,1],"range":[58,300],"nice":false,"zero":false},"axis":null},"x2":{"datum":1}}},
{"data":{"values":[{}]},"mark":{"type":"rect","fillOpacity":0,"stroke":"#999","strokeWidth":1.5},"encoding":{"x":{"datum":0,"type":"quantitative","scale":{"domain":[0,1],"range":[58,300],"nice":false,"zero":false},"axis":null},"x2":{"datum":1},"y":{"datum":-2.5,"type":"quantitative","scale":{"domain":[-2.5,0],"range":[216,16],"nice":false,"zero":false},"axis":null},"y2":{"datum":0}}},
{"data":{"name":"pc"},"transform":[{"filter":"datum.p==1 && datum.t=='g'"}],"mark":{"type":"line","color":"#8c8c8c","strokeWidth":2.5,"interpolate":"monotone"},"encoding":{"x":{"field":"x","type":"quantitative","scale":{"domain":[0,1],"range":[58,300],"nice":false,"zero":false},"axis":null},"y":{"field":"y","type":"quantitative","scale":{"domain":[-2.5,0],"range":[216,16],"nice":false,"zero":false},"axis":null},"detail":{"field":"c"}}},
{"data":{"name":"pc"},"transform":[{"filter":"datum.p==1 && datum.t=='d'"}],"mark":{"type":"line","color":"#000","strokeWidth":2.5,"interpolate":"monotone"},"encoding":{"x":{"field":"x","type":"quantitative","scale":{"domain":[0,1],"range":[58,300],"nice":false,"zero":false},"axis":null},"y":{"field":"y","type":"quantitative","scale":{"domain":[-2.5,0],"range":[216,16],"nice":false,"zero":false},"axis":null},"detail":{"field":"c"}}},
{"data":{"name":"pc"},"transform":[{"filter":"datum.p==1 && datum.t=='c'"}],"mark":{"type":"point","shape":"circle","filled":true,"fill":"#fff","stroke":"#000","strokeWidth":1,"size":30,"opacity":1},"encoding":{"x":{"field":"x","type":"quantitative","scale":{"domain":[0,1],"range":[58,300],"nice":false,"zero":false},"axis":null},"y":{"field":"y","type":"quantitative","scale":{"domain":[-2.5,0],"range":[216,16],"nice":false,"zero":false},"axis":null}}},
{"data":{"name":"gxl"},"mark":{"type":"text","font":"Liberation Serif","fontSize":11,"color":"#555","baseline":"middle","dy":17},"encoding":{"x":{"field":"x","type":"quantitative","scale":{"domain":[0,1],"range":[58,300],"nice":false,"zero":false},"axis":null},"y":{"datum":-2.5,"type":"quantitative","scale":{"domain":[-2.5,0],"range":[216,16],"nice":false,"zero":false},"axis":null},"text":{"field":"x","type":"quantitative","format":"~g"}}},
{"data":{"name":"gypl"},"mark":{"type":"text","font":"Liberation Serif","fontSize":11,"color":"#555","baseline":"middle","align":"right","dx":-8},"encoding":{"x":{"datum":0,"type":"quantitative","scale":{"domain":[0,1],"range":[58,300],"nice":false,"zero":false},"axis":null},"y":{"field":"y","type":"quantitative","scale":{"domain":[-2.5,0],"range":[216,16],"nice":false,"zero":false},"axis":null},"text":{"field":"y","type":"quantitative","format":"~g"}}},
{"data":{"values":[{}]},"mark":{"type":"text","text":"Sw","font":"Liberation Serif","fontSize":10,"color":"#555","baseline":"middle","dy":32},"encoding":{"x":{"datum":0.5,"type":"quantitative","scale":{"domain":[0,1],"range":[58,300],"nice":false,"zero":false},"axis":null},"y":{"datum":-2.5,"type":"quantitative","scale":{"domain":[-2.5,0],"range":[216,16],"nice":false,"zero":false},"axis":null}}},
{"data":{"values":[{}]},"mark":{"type":"text","text":"Kr","font":"Liberation Serif","fontSize":10,"color":"#555","baseline":"middle","angle":270,"dy":-37},"encoding":{"x":{"datum":0,"type":"quantitative","scale":{"domain":[0,1],"range":[58,300],"nice":false,"zero":false},"axis":null},"y":{"datum":-1.3,"type":"quantitative","scale":{"domain":[-2.5,0],"range":[216,16],"nice":false,"zero":false},"axis":null}}}
]},
{"width":6,"height":270,"data":{"values":[{}]},"mark":{"type":"text","text":""},"view":{"fill":"#000","stroke":null}},
{"width":308,"height":270,"layer":[
{"data":{"name":"gx"},"mark":{"type":"rule","color":"#000","strokeWidth":1},"encoding":{"x":{"field":"x","type":"quantitative","scale":{"domain":[0,1],"range":[58,300],"nice":false,"zero":false},"axis":null},"y":{"datum":-2.5,"type":"quantitative","scale":{"domain":[-2.5,0],"range":[216,16],"nice":false,"zero":false},"axis":null},"y2":{"datum":0}}},
{"data":{"name":"gyp"},"mark":{"type":"rule","color":"#000","strokeWidth":1},"encoding":{"y":{"field":"y","type":"quantitative","scale":{"domain":[-2.5,0],"range":[216,16],"nice":false,"zero":false},"axis":null},"x":{"datum":0,"type":"quantitative","scale":{"domain":[0,1],"range":[58,300],"nice":false,"zero":false},"axis":null},"x2":{"datum":1}}},
{"data":{"values":[{}]},"mark":{"type":"rect","fillOpacity":0,"stroke":"#999","strokeWidth":1.5},"encoding":{"x":{"datum":0,"type":"quantitative","scale":{"domain":[0,1],"range":[58,300],"nice":false,"zero":false},"axis":null},"x2":{"datum":1},"y":{"datum":-2.5,"type":"quantitative","scale":{"domain":[-2.5,0],"range":[216,16],"nice":false,"zero":false},"axis":null},"y2":{"datum":0}}},
{"data":{"name":"pc"},"transform":[{"filter":"datum.p==2 && datum.t=='g'"}],"mark":{"type":"line","color":"#8c8c8c","strokeWidth":2.5,"interpolate":"monotone"},"encoding":{"x":{"field":"x","type":"quantitative","scale":{"domain":[0,1],"range":[58,300],"nice":false,"zero":false},"axis":null},"y":{"field":"y","type":"quantitative","scale":{"domain":[-2.5,0],"range":[216,16],"nice":false,"zero":false},"axis":null},"detail":{"field":"c"}}},
{"data":{"name":"pc"},"transform":[{"filter":"datum.p==2 && datum.t=='d'"}],"mark":{"type":"line","color":"#000","strokeWidth":2.5,"interpolate":"monotone"},"encoding":{"x":{"field":"x","type":"quantitative","scale":{"domain":[0,1],"range":[58,300],"nice":false,"zero":false},"axis":null},"y":{"field":"y","type":"quantitative","scale":{"domain":[-2.5,0],"range":[216,16],"nice":false,"zero":false},"axis":null},"detail":{"field":"c"}}},
{"data":{"name":"pc"},"transform":[{"filter":"datum.p==2 && datum.t=='c'"}],"mark":{"type":"point","shape":"circle","filled":true,"fill":"#fff","stroke":"#000","strokeWidth":1,"size":30,"opacity":1},"encoding":{"x":{"field":"x","type":"quantitative","scale":{"domain":[0,1],"range":[58,300],"nice":false,"zero":false},"axis":null},"y":{"field":"y","type":"quantitative","scale":{"domain":[-2.5,0],"range":[216,16],"nice":false,"zero":false},"axis":null}}},
{"data":{"name":"gxl"},"mark":{"type":"text","font":"Liberation Serif","fontSize":11,"color":"#555","baseline":"middle","dy":17},"encoding":{"x":{"field":"x","type":"quantitative","scale":{"domain":[0,1],"range":[58,300],"nice":false,"zero":false},"axis":null},"y":{"datum":-2.5,"type":"quantitative","scale":{"domain":[-2.5,0],"range":[216,16],"nice":false,"zero":false},"axis":null},"text":{"field":"x","type":"quantitative","format":"~g"}}},
{"data":{"name":"gypl"},"mark":{"type":"text","font":"Liberation Serif","fontSize":11,"color":"#555","baseline":"middle","align":"right","dx":-8},"encoding":{"x":{"datum":0,"type":"quantitative","scale":{"domain":[0,1],"range":[58,300],"nice":false,"zero":false},"axis":null},"y":{"field":"y","type":"quantitative","scale":{"domain":[-2.5,0],"range":[216,16],"nice":false,"zero":false},"axis":null},"text":{"field":"y","type":"quantitative","format":"~g"}}},
{"data":{"values":[{}]},"mark":{"type":"text","text":"Sw","font":"Liberation Serif","fontSize":10,"color":"#555","baseline":"middle","dy":32},"encoding":{"x":{"datum":0.5,"type":"quantitative","scale":{"domain":[0,1],"range":[58,300],"nice":false,"zero":false},"axis":null},"y":{"datum":-2.5,"type":"quantitative","scale":{"domain":[-2.5,0],"range":[216,16],"nice":false,"zero":false},"axis":null}}},
{"data":{"values":[{}]},"mark":{"type":"text","text":"Kr","font":"Liberation Serif","fontSize":10,"color":"#555","baseline":"middle","angle":270,"dy":-37},"encoding":{"x":{"datum":0,"type":"quantitative","scale":{"domain":[0,1],"range":[58,300],"nice":false,"zero":false},"axis":null},"y":{"datum":-1.3,"type":"quantitative","scale":{"domain":[-2.5,0],"range":[216,16],"nice":false,"zero":false},"axis":null}}}
]},
{"width":6,"height":270,"data":{"values":[{}]},"mark":{"type":"text","text":""},"view":{"fill":"#000","stroke":null}},
{"width":304,"height":270,"layer":[
{"data":{"name":"gx"},"mark":{"type":"rule","color":"#000","strokeWidth":1},"encoding":{"x":{"field":"x","type":"quantitative","scale":{"domain":[0,1],"range":[57,300],"nice":false,"zero":false},"axis":null},"y":{"datum":-2.5,"type":"quantitative","scale":{"domain":[-2.5,0],"range":[216,16],"nice":false,"zero":false},"axis":null},"y2":{"datum":0}}},
{"data":{"name":"gyp"},"mark":{"type":"rule","color":"#000","strokeWidth":1},"encoding":{"y":{"field":"y","type":"quantitative","scale":{"domain":[-2.5,0],"range":[216,16],"nice":false,"zero":false},"axis":null},"x":{"datum":0,"type":"quantitative","scale":{"domain":[0,1],"range":[57,300],"nice":false,"zero":false},"axis":null},"x2":{"datum":1}}},
{"data":{"values":[{}]},"mark":{"type":"rect","fillOpacity":0,"stroke":"#999","strokeWidth":1.5},"encoding":{"x":{"datum":0,"type":"quantitative","scale":{"domain":[0,1],"range":[57,300],"nice":false,"zero":false},"axis":null},"x2":{"datum":1},"y":{"datum":-2.5,"type":"quantitative","scale":{"domain":[-2.5,0],"range":[216,16],"nice":false,"zero":false},"axis":null},"y2":{"datum":0}}},
{"data":{"name":"pc"},"transform":[{"filter":"datum.p==3 && datum.t=='g'"}],"mark":{"type":"line","color":"#8c8c8c","strokeWidth":2.5,"interpolate":"monotone"},"encoding":{"x":{"field":"x","type":"quantitative","scale":{"domain":[0,1],"range":[57,300],"nice":false,"zero":false},"axis":null},"y":{"field":"y","type":"quantitative","scale":{"domain":[-2.5,0],"range":[216,16],"nice":false,"zero":false},"axis":null},"detail":{"field":"c"}}},
{"data":{"name":"pc"},"transform":[{"filter":"datum.p==3 && datum.t=='d'"}],"mark":{"type":"line","color":"#000","strokeWidth":2.5,"interpolate":"monotone"},"encoding":{"x":{"field":"x","type":"quantitative","scale":{"domain":[0,1],"range":[57,300],"nice":false,"zero":false},"axis":null},"y":{"field":"y","type":"quantitative","scale":{"domain":[-2.5,0],"range":[216,16],"nice":false,"zero":false},"axis":null},"detail":{"field":"c"}}},
{"data":{"name":"pc"},"transform":[{"filter":"datum.p==3 && datum.t=='c'"}],"mark":{"type":"point","shape":"circle","filled":true,"fill":"#fff","stroke":"#000","strokeWidth":1,"size":30,"opacity":1},"encoding":{"x":{"field":"x","type":"quantitative","scale":{"domain":[0,1],"range":[57,300],"nice":false,"zero":false},"axis":null},"y":{"field":"y","type":"quantitative","scale":{"domain":[-2.5,0],"range":[216,16],"nice":false,"zero":false},"axis":null}}},
{"data":{"name":"gxl"},"mark":{"type":"text","font":"Liberation Serif","fontSize":11,"color":"#555","baseline":"middle","dy":17},"encoding":{"x":{"field":"x","type":"quantitative","scale":{"domain":[0,1],"range":[57,300],"nice":false,"zero":false},"axis":null},"y":{"datum":-2.5,"type":"quantitative","scale":{"domain":[-2.5,0],"range":[216,16],"nice":false,"zero":false},"axis":null},"text":{"field":"x","type":"quantitative","format":"~g"}}},
{"data":{"name":"gypl"},"mark":{"type":"text","font":"Liberation Serif","fontSize":11,"color":"#555","baseline":"middle","align":"right","dx":-8},"encoding":{"x":{"datum":0,"type":"quantitative","scale":{"domain":[0,1],"range":[57,300],"nice":false,"zero":false},"axis":null},"y":{"field":"y","type":"quantitative","scale":{"domain":[-2.5,0],"range":[216,16],"nice":false,"zero":false},"axis":null},"text":{"field":"y","type":"quantitative","format":"~g"}}},
{"data":{"values":[{}]},"mark":{"type":"text","text":"Sw","font":"Liberation Serif","fontSize":10,"color":"#555","baseline":"middle","dy":32},"encoding":{"x":{"datum":0.5,"type":"quantitative","scale":{"domain":[0,1],"range":[57,300],"nice":false,"zero":false},"axis":null},"y":{"datum":-2.5,"type":"quantitative","scale":{"domain":[-2.5,0],"range":[216,16],"nice":false,"zero":false},"axis":null}}},
{"data":{"values":[{}]},"mark":{"type":"text","text":"Kr","font":"Liberation Serif","fontSize":10,"color":"#555","baseline":"middle","angle":270,"dy":-37},"encoding":{"x":{"datum":0,"type":"quantitative","scale":{"domain":[0,1],"range":[57,300],"nice":false,"zero":false},"axis":null},"y":{"datum":-1.3,"type":"quantitative","scale":{"domain":[-2.5,0],"range":[216,16],"nice":false,"zero":false},"axis":null}}}
]},

{"width":6,"height":5,"data":{"values":[{}]},"mark":{"type":"text","text":""},"view":{"fill":"#000","stroke":null}},
{"width":47,"height":5,"data":{"values":[{}]},"mark":{"type":"text","text":""},"view":{"fill":"#000","stroke":null}},
{"width":6,"height":5,"data":{"values":[{}]},"mark":{"type":"text","text":""},"view":{"fill":"#000","stroke":null}},
{"width":307,"height":5,"data":{"values":[{}]},"mark":{"type":"text","text":""},"view":{"fill":"#000","stroke":null}},
{"width":6,"height":5,"data":{"values":[{}]},"mark":{"type":"text","text":""},"view":{"fill":"#000","stroke":null}},
{"width":308,"height":5,"data":{"values":[{}]},"mark":{"type":"text","text":""},"view":{"fill":"#000","stroke":null}},
{"width":6,"height":5,"data":{"values":[{}]},"mark":{"type":"text","text":""},"view":{"fill":"#000","stroke":null}},
{"width":304,"height":5,"data":{"values":[{}]},"mark":{"type":"text","text":""},"view":{"fill":"#000","stroke":null}},

{"width":6,"height":28,"data":{"values":[{}]},"mark":{"type":"text","text":""},"view":{"fill":"#000","stroke":null}},
{"width":47,"height":28,"data":{"values":[{"k":"Derived curve"}]},"mark":{"type":"point","filled":true,"opacity":0},"encoding":{"color":{"field":"k","type":"nominal","scale":{"range":["#000"]},"legend":{"orient":"none","legendX":73,"legendY":0,"title":null,"padding":0,"symbolType":"M-7.3,-0.3H1V0.3H-7.3Z","symbolSize":400,"symbolOpacity":1,"symbolStrokeWidth":0,"labelOffset":10,"labelLimit":0,"labelFont":"DejaVu Serif","labelFontWeight":"bold","labelFontSize":13.5,"labelColor":"#000"}}}},
{"width":6,"height":28,"data":{"values":[{}]},"mark":{"type":"text","text":""}},
{"width":307,"height":28,"data":{"values":[{"k":"20%confidence interval for 20 runs"}]},"mark":{"type":"point","filled":false,"opacity":0},"encoding":{"color":{"field":"k","type":"nominal","scale":{"range":["#000"]},"legend":{"orient":"none","legendX":236,"legendY":0,"title":null,"padding":0,"symbolType":"M-5.48,0a0.22,0.22 0 1,0 0.44,0a0.22,0.22 0 1,0 -0.44,0M-4.22,0a0.22,0.22 0 1,0 0.44,0a0.22,0.22 0 1,0 -0.44,0M-2.96,0a0.22,0.22 0 1,0 0.44,0a0.22,0.22 0 1,0 -0.44,0M-1.7,0a0.22,0.22 0 1,0 0.44,0a0.22,0.22 0 1,0 -0.44,0M-0.44,0a0.22,0.22 0 1,0 0.44,0a0.22,0.22 0 1,0 -0.44,0M0.82,0a0.22,0.22 0 1,0 0.44,0a0.22,0.22 0 1,0 -0.44,0","symbolSize":400,"symbolOpacity":1,"symbolStrokeWidth":1.2,"symbolFillColor":"#fff","labelOffset":5,"labelLimit":0,"labelFont":"DejaVu Serif","labelFontWeight":"bold","labelFontSize":13.6,"labelColor":"#000"}}}},
{"width":6,"height":28,"data":{"values":[{}]},"mark":{"type":"text","text":""}},
{"width":308,"height":28,"data":{"values":[{"k":"100% confidence interval for 20 runs"}]},"mark":{"type":"point","filled":true,"opacity":0},"encoding":{"color":{"field":"k","type":"nominal","scale":{"range":["#8c8c8c"]},"legend":{"orient":"none","legendX":319,"legendY":0,"title":null,"padding":0,"symbolType":"M-7,-0.25H1V0.25H-7Z","symbolSize":400,"symbolOpacity":1,"symbolStrokeWidth":0,"labelOffset":10,"labelLimit":0,"labelFont":"DejaVu Serif","labelFontWeight":"bold","labelFontSize":13,"labelColor":"#000"}}}},
{"width":6,"height":28,"data":{"values":[{}]},"mark":{"type":"text","text":""}},
{"width":304,"height":28,"data":{"values":[{}]},"mark":{"type":"text","text":""}},

{"width":6,"height":3,"data":{"values":[{}]},"mark":{"type":"text","text":""},"view":{"fill":"#000","stroke":null}},
{"width":47,"height":3,"data":{"values":[{}]},"mark":{"type":"text","text":""},"view":{"fill":"#000","stroke":null}},
{"width":6,"height":3,"data":{"values":[{}]},"mark":{"type":"text","text":""},"view":{"fill":"#000","stroke":null}},
{"width":307,"height":3,"data":{"values":[{}]},"mark":{"type":"text","text":""},"view":{"fill":"#000","stroke":null}},
{"width":6,"height":3,"data":{"values":[{}]},"mark":{"type":"text","text":""},"view":{"fill":"#000","stroke":null}},
{"width":308,"height":3,"data":{"values":[{}]},"mark":{"type":"text","text":""},"view":{"fill":"#000","stroke":null}},
{"width":6,"height":3,"data":{"values":[{}]},"mark":{"type":"text","text":""},"view":{"fill":"#000","stroke":null}},
{"width":304,"height":3,"data":{"values":[{}]},"mark":{"type":"text","text":""},"view":{"fill":"#000","stroke":null}}
]
}
